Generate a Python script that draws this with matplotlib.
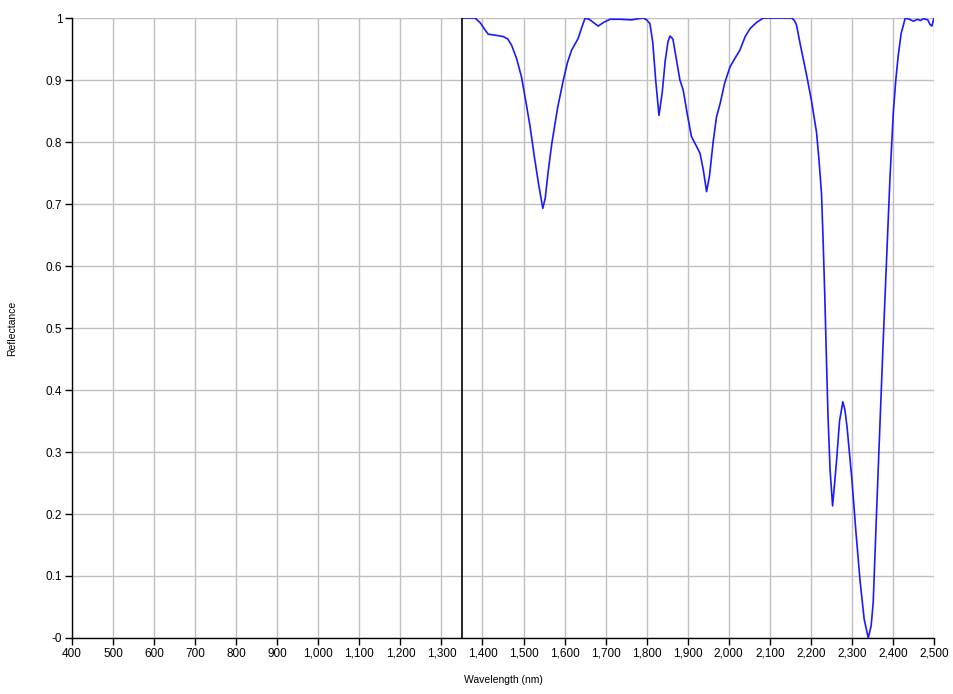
"""Reflectance spectrum chart (SWIR range) recreated with matplotlib."""

import matplotlib

matplotlib.use("Agg")
import matplotlib.pyplot as plt
from matplotlib.ticker import FuncFormatter, MultipleLocator

# spectrum
wavelength = [
    1350, 1365, 1382, 1395, 1405, 1414, 1434, 1451, 1462, 1471, 1483, 1495,
    1505, 1516, 1526, 1536, 1547, 1553, 1560, 1569, 1583, 1597, 1607, 1617,
    1633, 1642, 1650, 1660, 1670, 1682, 1695, 1711, 1735, 1763, 1780, 1792,
    1800, 1808, 1815, 1822, 1830, 1838, 1845, 1852, 1857, 1864, 1872, 1881,
    1889, 1899, 1909, 1920, 1930, 1938, 1946, 1953, 1962, 1970, 1979, 1990,
    2003, 2015, 2027, 2040, 2052, 2068, 2084, 2120, 2153, 2160, 2165, 2175,
    2190, 2202, 2214, 2220, 2226, 2230, 2234, 2238, 2242, 2247, 2253, 2258,
    2263, 2270, 2278, 2283, 2288, 2300, 2310, 2320, 2330, 2340, 2347, 2352,
    2360, 2369, 2377, 2385, 2393, 2401, 2407, 2413, 2420, 2430, 2440, 2450,
    2460, 2467, 2475, 2485, 2490, 2495, 2500,
]
reflectance = [
    1.000, 1.000, 1.000, 0.992, 0.982, 0.974, 0.972, 0.970, 0.966, 0.956, 0.935, 0.905,
    0.868, 0.825, 0.778, 0.735, 0.693, 0.710, 0.752, 0.798, 0.855, 0.900, 0.928, 0.948,
    0.967, 0.985, 1.000, 0.998, 0.993, 0.987, 0.993, 0.998, 0.998, 0.997, 0.999, 1.000,
    0.997, 0.991, 0.960, 0.900, 0.843, 0.880, 0.930, 0.962, 0.971, 0.966, 0.935, 0.900,
    0.884, 0.845, 0.809, 0.795, 0.782, 0.755, 0.720, 0.745, 0.800, 0.840, 0.862, 0.895,
    0.921, 0.935, 0.948, 0.970, 0.983, 0.993, 1.000, 1.000, 1.000, 0.996, 0.989, 0.955,
    0.907, 0.865, 0.815, 0.770, 0.717, 0.640, 0.552, 0.450, 0.355, 0.270, 0.213, 0.250,
    0.289, 0.350, 0.381, 0.368, 0.342, 0.256, 0.170, 0.092, 0.030, 0.000, 0.020, 0.058,
    0.200, 0.355, 0.490, 0.618, 0.745, 0.848, 0.900, 0.940, 0.975, 1.000, 0.998, 0.995,
    0.998, 0.996, 0.999, 0.997, 0.990, 0.987, 1.000,
]
marker_wavelength = 1350

x_range = (400, 2500)
y_range = (0, 1)

plt.rcParams["font.family"] = ["Liberation Sans", "DejaVu Sans"]

fig = plt.figure(figsize=(9.54, 6.94), dpi=100)
ax = fig.add_axes([0.0755, 0.0807, 0.9035, 0.8933])

ax.plot(wavelength, reflectance, color="#1a1aff", linewidth=1.2, zorder=3)
ax.plot([marker_wavelength, marker_wavelength], list(y_range), color="black",
        linewidth=1.2, zorder=4)

ax.set_xlim(*x_range)
ax.set_ylim(*y_range)
ax.xaxis.set_major_locator(MultipleLocator(100))
ax.yaxis.set_major_locator(MultipleLocator(0.1))
ax.xaxis.set_major_formatter(FuncFormatter(lambda v, _: f"{int(round(v)):,}"))


def y_label(v, _):
    if abs(v) < 1e-9:
        return "-0"
    if abs(v - 1) < 1e-9:
        return "1"
    return f"{v:.1f}"


ax.yaxis.set_major_formatter(FuncFormatter(y_label))

ax.grid(True, color="#c0c0c0", linewidth=1.0, zorder=0)
for side in ("top", "right"):
    ax.spines[side].set_visible(False)
for side in ("left", "bottom"):
    ax.spines[side].set_color("black")
    ax.spines[side].set_linewidth(1.0)

ax.tick_params(axis="both", direction="out", length=5, width=1, labelsize=8.5,
               colors="black", pad=2)
ax.set_xlabel("Wavelength (nm)", fontsize=7.5)
ax.set_ylabel("Reflectance", fontsize=7.5)
ax.xaxis.set_label_coords(0.5, -0.059)
ax.yaxis.set_label_coords(-0.064, 0.5)

fig.savefig("out.png", dpi=100)
